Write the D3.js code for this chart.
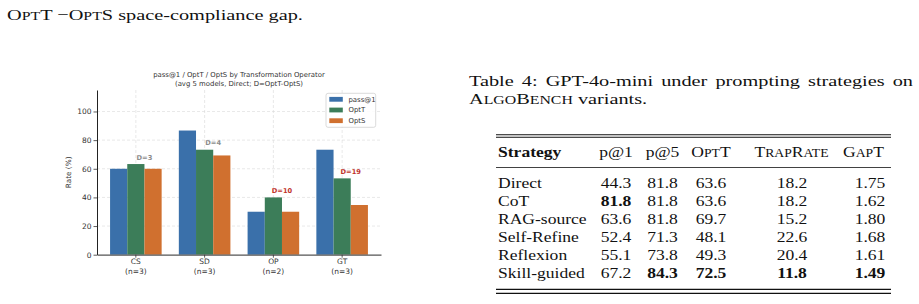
<!DOCTYPE html>
<html>
<head>
<meta charset="utf-8">
<script src="https://cdn.jsdelivr.net/npm/d3@7"></script>
<style>
  body { margin: 0; background: #fff; }
  svg { display: block; }
</style>
</head>
<body>
<svg id="page" width="919" height="304"></svg>
<script>
// chart data
var categories = ["CS", "SD", "OP", "GT"];
var groupSizes = [3, 3, 2, 3];
var seriesNames = ["pass@1", "OptT", "OptS"];
var passAt1 = [60.0, 86.7, 30.0, 73.3];
var optT = [63.3, 73.3, 40.0, 53.3];
var optS = [60.0, 69.3, 30.0, 34.7];
var yTicks = [0, 20, 40, 60, 80, 100];

// table data
var strategies = ["Direct", "CoT", "RAG-source", "Self-Refine", "Reflexion", "Skill-guided"];
var tabP1 = [44.3, 81.8, 63.6, 52.4, 55.1, 67.2];
var tabP5 = [81.8, 81.8, 81.8, 71.3, 73.8, 84.3];
var tabOptT = [63.6, 63.6, 69.7, 48.1, 49.3, 72.5];
var tabTrap = [18.2, 18.2, 15.2, 22.6, 20.4, 11.8];
var tabGapT = [1.75, 1.62, 1.80, 1.68, 1.61, 1.49];

var colors = {"pass@1": "#3a70aa", "OptT": "#3c7d59", "OptS": "#d0702f"};

var svg = d3.select('#page');

/* ---------- serif page text (stretched sideways, like the scan) ---------- */
var SC = 0.78;
var bodyFont = {size: 15.5, sx: 1.31};   // running text / caption
var tabFont = {size: 15, sx: 1.17};      // table is set smaller
// "{...}" marks small caps
function serifText(parent, x, y, str, opts) {
    opts = opts || {};
    var f = opts.font || tabFont;
    var t = parent.append('text')
        .attr('transform', 'translate(' + x + ',' + y + ') scale(' + f.sx + ',1)')
        .attr('font-family', '"Liberation Serif", "Times New Roman", serif')
        .attr('font-size', f.size)
        .attr('fill', '#111')
        .attr('text-anchor', opts.anchor || 'start')
        .attr('font-weight', opts.bold ? 'bold' : null)
        .style('white-space', 'pre');
    str.split(/(\{[^}]*\})/).forEach(function(p) {
        if (!p) return;
        if (p.charAt(0) == '{') {
            t.append('tspan').attr('font-size', f.size * SC).text(p.slice(1, -1).toUpperCase());
        } else {
            t.append('tspan').text(p);
        }
    });
    return t;
}

serifText(svg, 7, 19.5, "O{pt}T \u2212O{pt}S space-compliance gap.", {font: bodyFont});

var cap1 = serifText(svg, 469, 86, "Table 4: GPT-4o-mini under prompting strategies on", {font: bodyFont});
var natural = cap1.node().getComputedTextLength();
cap1.attr('word-spacing', Math.max(0, ((913 - 469) / bodyFont.sx - natural) / 6));
serifText(svg, 469, 104.3, "A{lgo}B{ench} variants.", {font: bodyFont});

/* ---------- table ---------- */
var table = svg.append('g');
var ruleL = 496, ruleR = 891;
[[134.8, 1.1], [137.3, 1.1], [167.5, 0.8], [289.3, 1.2], [293.3, 1.2]].forEach(function(r) {
    table.append('line').attr('x1', ruleL).attr('x2', ruleR)
        .attr('y1', r[0]).attr('y2', r[0])
        .attr('stroke', '#111').attr('stroke-width', r[1]);
});

var columns = [
    {head: "p@1", hx: 616, vx: 616, vals: tabP1, fmt: 1, best: d3.max(tabP1)},
    {head: "p@5", hx: 662.5, vx: 662.5, vals: tabP5, fmt: 1, best: d3.max(tabP5)},
    {head: "O{pt}T", hx: 711, vx: 711, vals: tabOptT, fmt: 1, best: d3.max(tabOptT)},
    {head: "T{rap}R{ate}", hx: 791.5, vx: 792, vals: tabTrap, fmt: 1, best: d3.min(tabTrap)},
    {head: "G{ap}T", hx: 863.5, vx: 870, vals: tabGapT, fmt: 2, best: d3.min(tabGapT)}
];
var headY = 156.7, rowY0 = 188.3, rowStep = 18;

serifText(table, 498, headY, "Strategy", {bold: true});
columns.forEach(function(c) {
    serifText(table, c.hx, headY, c.head, {anchor: 'middle'});
});
strategies.forEach(function(s, i) {
    var yy = rowY0 + i * rowStep;
    serifText(table, 498, yy, s);
    columns.forEach(function(c) {
        serifText(table, c.vx, yy, c.vals[i].toFixed(c.fmt), {anchor: 'middle', bold: c.vals[i] == c.best});
    });
});

/* ---------- bar chart ---------- */
var plotL = 97, plotR = 381, plotT = 90, plotB = 254.7;
var chart = svg.append('g').attr('font-family', '"DejaVu Sans", sans-serif');

var x0 = d3.scaleBand().domain(categories).range([plotL, plotR]).paddingInner(0.25).paddingOuter(0.19);
var x1 = d3.scaleBand().domain(seriesNames).range([0, x0.bandwidth()]);
var y = d3.scaleLinear().domain([0, 115]).range([plotB, plotT]);

// grid
chart.append('g').selectAll('line').data(yTicks.slice(1)).enter().append('line')
    .attr('x1', plotL).attr('x2', plotR)
    .attr('y1', function(d) { return y(d); }).attr('y2', function(d) { return y(d); })
    .attr('stroke', '#d9d9d9').attr('stroke-width', 0.6).attr('stroke-dasharray', '3,2');
chart.append('g').selectAll('line').data(categories).enter().append('line')
    .attr('x1', function(d) { return x0(d) + x0.bandwidth() / 2; })
    .attr('x2', function(d) { return x0(d) + x0.bandwidth() / 2; })
    .attr('y1', plotT).attr('y2', plotB)
    .attr('stroke', '#d9d9d9').attr('stroke-width', 0.6).attr('stroke-dasharray', '3,2');

var rows = categories.map(function(c, i) {
    return {cat: c, vals: [passAt1[i], optT[i], optS[i]]};
});

chart.append('g').selectAll('g').data(rows).enter().append('g')
    .attr('transform', function(d) { return 'translate(' + x0(d.cat) + ',0)'; })
    .selectAll('rect').data(function(d) {
        return d.vals.map(function(v, k) { return {name: seriesNames[k], v: v}; });
    }).enter().append('rect')
    .attr('x', function(d) { return x1(d.name); })
    .attr('y', function(d) { return y(d.v); })
    .attr('width', x1.bandwidth())
    .attr('height', function(d) { return plotB - y(d.v); })
    .attr('fill', function(d) { return colors[d.name]; });

// gap labels
chart.append('g').selectAll('text').data(rows).enter().append('text')
    .attr('x', function(d) { return x0(d.cat) + x1('OptS'); })
    .attr('y', function(d) { return y(Math.max(d.vals[1], d.vals[2])) - 4.5; })
    .attr('text-anchor', 'middle')
    .attr('font-size', 6.7).attr('font-weight', 'bold')
    .attr('fill', function(d) { return Math.round(d.vals[1] - d.vals[2]) >= 10 ? '#c0322b' : '#8c8c8c'; })
    .text(function(d) { return 'D=' + Math.round(d.vals[1] - d.vals[2]); });

// axes
var yAxis = chart.append('g').attr('transform', 'translate(' + plotL + ',0)')
    .call(d3.axisLeft(y).tickValues(yTicks).tickSize(3.5).tickSizeOuter(0).tickPadding(2));
yAxis.select('.domain').attr('stroke', '#222').attr('stroke-width', 1);
yAxis.selectAll('.tick line').attr('stroke', '#333').attr('stroke-width', 0.8);
yAxis.selectAll('.tick text').attr('font-size', 7.5).attr('font-family', '"DejaVu Sans", sans-serif').attr('fill', '#333');

var xAxis = chart.append('g').attr('transform', 'translate(0,' + plotB + ')')
    .call(d3.axisBottom(x0).tickSize(3).tickSizeOuter(0).tickFormat(''));
xAxis.select('.domain').attr('stroke', '#555').attr('stroke-width', 1.3);
xAxis.selectAll('.tick line').attr('stroke', '#333').attr('stroke-width', 0.8);
xAxis.selectAll('.tick').each(function(d, i) {
    var t = d3.select(this).append('text')
        .attr('fill', '#333').attr('font-size', 7.5).attr('text-anchor', 'middle')
        .attr('font-family', '"DejaVu Sans", sans-serif');
    t.append('tspan').attr('x', 0).attr('y', 9.8).text(d);
    t.append('tspan').attr('x', 0).attr('y', 19.3).text('(n=' + groupSizes[i] + ')');
});

// labels
chart.append('text')
    .attr('transform', 'translate(68.5,' + ((plotT + plotB) / 2) + ') rotate(-90)')
    .attr('text-anchor', 'middle').attr('dy', '0.35em')
    .attr('font-size', 7.3).attr('fill', '#333').text('Rate (%)');

var title = chart.append('text').attr('text-anchor', 'middle').attr('font-size', 6.9).attr('fill', '#333');
title.append('tspan').attr('x', (plotL + plotR) / 2).attr('y', 77.2).text('pass@1 / OptT / OptS by Transformation Operator');
title.append('tspan').attr('x', (plotL + plotR) / 2).attr('y', 85.6).text('(avg 5 models, Direct; D=OptT-OptS)');

// legend
var legend = chart.append('g').attr('transform', 'translate(326,93.3)');
legend.append('rect').attr('width', 49.7).attr('height', 34).attr('rx', 2)
    .attr('fill', '#fff').attr('fill-opacity', 0.85).attr('stroke', '#ccc').attr('stroke-width', 0.7);
seriesNames.forEach(function(s, k) {
    var cy = 6 + k * 10.7;
    legend.append('rect').attr('x', 3.3).attr('y', cy - 2.4).attr('width', 13.5).attr('height', 4.8).attr('fill', colors[s]);
    legend.append('text').attr('x', 22.5).attr('y', cy + 2.4).attr('font-size', 6.9).attr('fill', '#333').text(s);
});
</script>
</body>
</html>
